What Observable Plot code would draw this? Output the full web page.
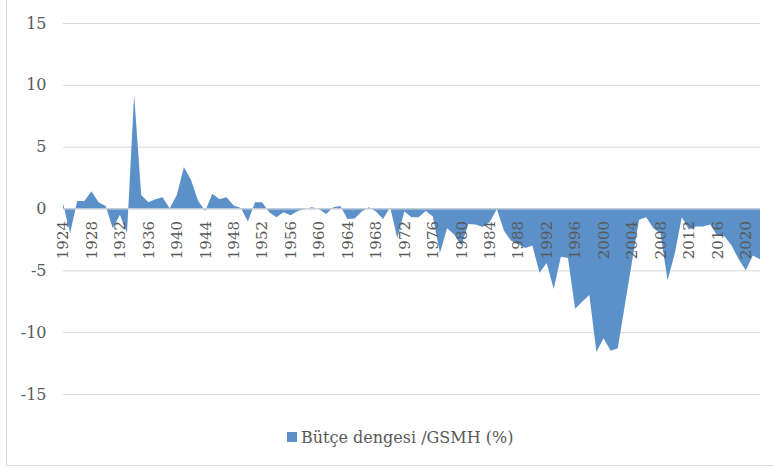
<!DOCTYPE html>
<html>
<head>
<meta charset="utf-8">
<script src="https://cdn.jsdelivr.net/npm/d3@7"></script>
<script src="https://cdn.jsdelivr.net/npm/@observablehq/plot@0.6"></script>
<style>
  html, body { margin: 0; padding: 0; background: #fff; overflow: hidden; }
  #wrap { position: relative; width: 773px; height: 469px; }
  #frame { position: absolute; left: 6px; top: -5px; width: 900px; height: 471px; border: 1px solid #d9d9d9; box-sizing: border-box; }
  #chart { position: absolute; left: 0; top: 0; }
  #legend { position: absolute; left: 287px; top: 425px; height: 24px; display: flex; align-items: center;
            font-family: "DejaVu Serif", serif; font-size: 16px; color: #595959; white-space: nowrap; }
  #legend .sw { display: inline-block; width: 10px; height: 10px; margin-right: 4px; }
</style>
</head>
<body>
<div id="wrap">
  <div id="frame"></div>
  <div id="chart"></div>
  <div id="legend"><span class="sw"></span><span class="lt"></span></div>
</div>
<script>
const seriesName = "Bütçe dengesi /GSMH (%)";
const seriesColor = "#5b91c8";

const years = d3.range(1924, 2023);
const values = [
  0.4, -2.0, 0.6, 0.6, 1.4, 0.5, 0.2, -1.6, -0.5, -2.0,      // 1924-1933
  9.2, 1.1, 0.5, 0.75, 0.9, 0.0, 1.1, 3.35, 2.3, 0.6,        // 1934-1943
  -0.2, 1.2, 0.75, 0.9, 0.25, 0.05, -1.05, 0.5, 0.5, -0.3,   // 1944-1953
  -0.7, -0.3, -0.55, -0.2, -0.05, 0.1, -0.05, -0.45, 0.1, 0.2, // 1954-1963
  -0.85, -0.8, -0.25, 0.1, -0.25, -0.85, 0.1, -2.4, -0.25, -0.7, // 1964-1973
  -0.7, -0.2, -0.65, -3.6, -1.6, -2.1, -3.0, -1.25, -1.3, -1.5, // 1974-1983
  -1.1, -0.05, -1.8, -2.6, -2.9, -3.2, -3.0, -5.2, -4.4, -6.5, // 1984-1993
  -3.9, -4.0, -8.1, -7.55, -7.0, -11.6, -10.5, -11.5, -11.3, -7.8, // 1994-2003
  -4.3, -0.9, -0.7, -1.6, -2.0, -5.8, -3.7, -0.7, -1.7, -1.45, // 2004-2013
  -1.45, -1.3, -2.2, -2.25, -3.0, -4.1, -5.0, -3.8, -4.1     // 2014-2022
];
const yTicks = [-15, -10, -5, 0, 5, 10, 15];
const xTickLabels = d3.range(1924, 2023, 4);

const data = years.map((year, i) => ({year, value: values[i]}));

const fontFamily = "'DejaVu Serif', serif";

const chart = Plot.plot({
  width: 773,
  height: 415,
  marginLeft: 63,
  marginRight: 13,
  marginTop: 23,
  marginBottom: 21,
  x: {type: "linear", domain: [1924, 2022], axis: null},
  y: {type: "linear", domain: [-15, 15], axis: null, label: null},
  style: {fontFamily, fontSize: "16px", color: "#595959", background: "transparent", overflow: "visible"},
  marks: [
    Plot.gridY(yTicks, {stroke: "#d9d9d9", strokeOpacity: 1, strokeWidth: 1}),
    Plot.areaY(data, {x: "year", y: "value", fill: seriesColor}),
    Plot.ruleY([0], {stroke: "#d9d9d9", strokeWidth: 1}),
    Plot.text(yTicks, {x: 1924, y: d => d, text: d => String(d), textAnchor: "end", dx: -17, fill: "#595959", fontSize: 16, fontFamily}),
    Plot.text(xTickLabels, {x: d => d, y: () => 0, text: d => String(d), rotate: -90, textAnchor: "end", dy: 12, fill: "#595959", fontSize: 15, fontFamily})
  ]
});
document.getElementById("chart").appendChild(chart);
document.querySelector("#legend .sw").style.background = seriesColor;
document.querySelector("#legend .lt").textContent = seriesName;
</script>
</body>
</html>
